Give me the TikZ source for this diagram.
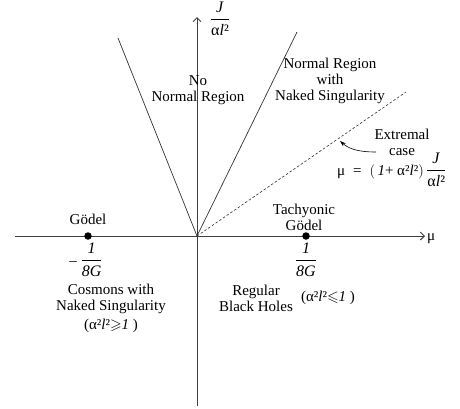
\documentclass[tikz,border=0pt]{standalone}
\usepackage{amssymb}
\usepackage{fontspec}
\setmainfont{Liberation Serif}
\usetikzlibrary{arrows.meta}
\newcommand\myfr[2]{{\fontsize{16}{17}\selectfont\ensuremath{\displaystyle\frac{\mbox{#1}}{\mbox{#2}}}}}
\begin{document}
\begin{tikzpicture}[x=1pt,y=-1pt,
  lbl/.style={font=\fontsize{15}{16}\selectfont, align=center, inner sep=0pt},
  axis/.style={draw=black!75, line width=0.9pt, -{Straight Barb[length=4pt,width=8pt]}},
  bound/.style={draw=black!80, line width=0.7pt},
  dot/.style={circle, fill=black, inner sep=0pt, minimum size=7.5pt}]
\useasboundingbox (0,0) rectangle (460,408);
\coordinate (O) at (197,236);
\coordinate (ybot) at (197,406);
\coordinate (ytop) at (197,17);
\coordinate (xl) at (15,236);
\coordinate (xr) at (425,236);
\coordinate (Lt) at (118,38);
\coordinate (Rt) at (297,32);
\coordinate (Dt) at (406,92);
\draw[axis] (ybot) -- (ytop);
\draw[axis] (xl) -- (xr);
\draw[bound] (O) -- (Lt);
\draw[bound] (O) -- (Rt);
\draw[bound, dashed, dash pattern=on 2.5pt off 2pt, line width=0.6pt] (O) -- (Dt);
\node[lbl, anchor=west] (mu) at (427,239) {μ};
\node[lbl] (Jlab) at (220,19) {\myfr{\textit{J}}{α\textit{l}²}};
\node[lbl] (noreg) at (198,90) {No\\Normal Region};
\node[lbl] (nreg) at (330,81) {Normal Region\\with\\Naked Singularity};
\node[lbl] (ext) at (402,142) {Extremal\\case};
\node[lbl, anchor=west] (form) at (337,170) {μ \;= \;$\Bigl($\,\textit{1}+ α²\textit{l}²$\Bigr)$\,\myfr{\textit{J}}{α\textit{l}²}};
\draw[-{Stealth[length=6pt,width=4pt]}, line width=0.6pt] (376,152) .. controls (356,152) and (348,148) .. (340,141);
\node[dot] (god) at (88,236) {};
\node[lbl] (godl) at (88,219) {Gödel};
\node[lbl] (godv) at (86,260) {– \myfr{\textit{1}}{\textit{8G}}};
\node[dot] (tach) at (306,236) {};
\node[lbl] (tachl) at (304,217) {Tachyonic\\Gödel};
\node[lbl] (tachv) at (306,260) {\myfr{\textit{1}}{\textit{8G}}};
\node[lbl] (cos) at (111,308) {Cosmons with\\Naked Singularity\\[3pt](α²\textit{l}²$\geqslant$\textit{1} )};
\node[lbl] (reg) at (256,298) {Regular\\Black Holes};
\node[lbl] (regc) at (328,298) {(α²\textit{l}²$\leqslant$\textit{1} )};
\end{tikzpicture}
\end{document}
